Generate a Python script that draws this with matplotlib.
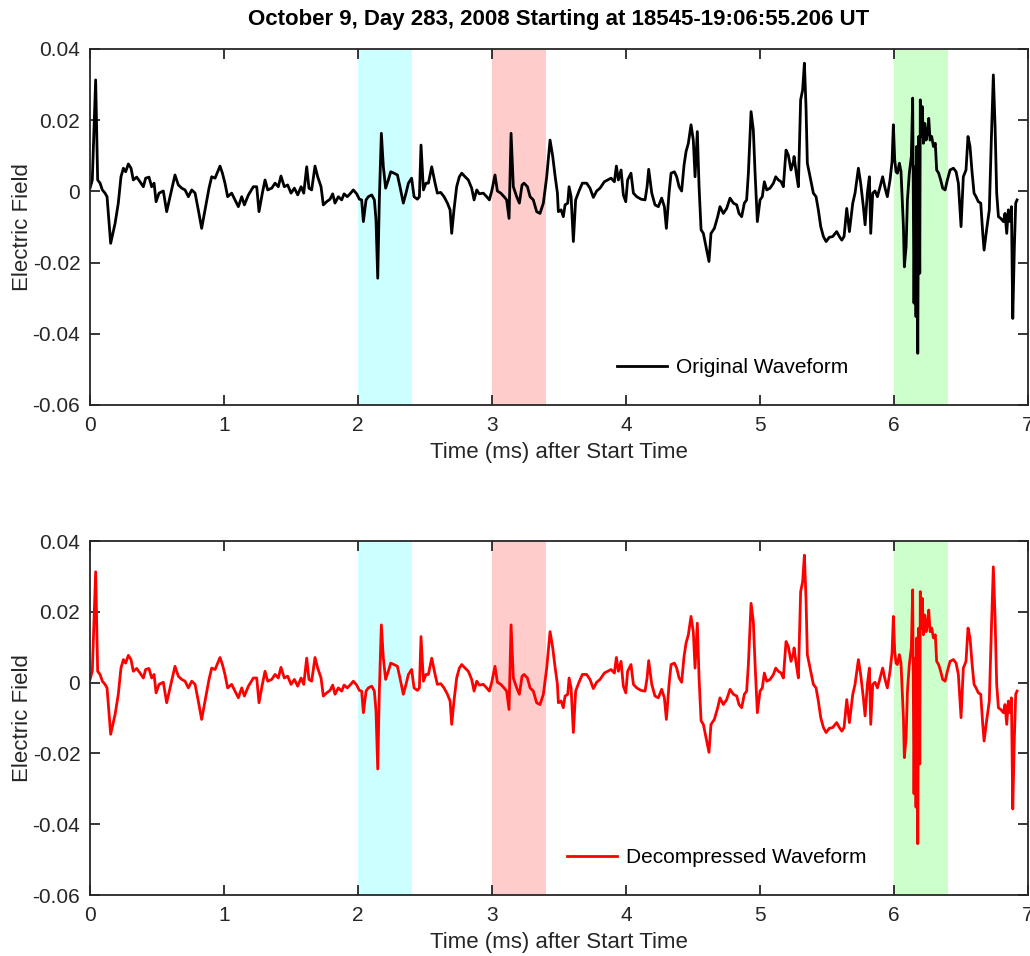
import numpy as np
import matplotlib.pyplot as plt

# ====== Waveform samples (time in ms, field in arbitrary units) ======
time_ms = [
    0.000, 0.017, 0.042, 0.057, 0.075, 0.092, 0.112, 0.127, 0.154, 0.187,
    0.211, 0.231, 0.249, 0.266, 0.286, 0.306, 0.323, 0.348, 0.373, 0.398,
    0.415, 0.440, 0.460, 0.478, 0.493, 0.515, 0.547, 0.572, 0.597, 0.634,
    0.659, 0.684, 0.709, 0.734, 0.759, 0.784, 0.808, 0.833, 0.863, 0.888,
    0.908, 0.933, 0.953, 0.970, 0.988, 1.007, 1.027, 1.057, 1.082, 1.107,
    1.132, 1.152, 1.182, 1.219, 1.244, 1.261, 1.286, 1.306, 1.326, 1.356,
    1.381, 1.405, 1.425, 1.450, 1.475, 1.500, 1.525, 1.550, 1.575, 1.595,
    1.617, 1.634, 1.654, 1.679, 1.699, 1.724, 1.741,
    1.766, 1.791, 1.811, 1.828, 1.853, 1.878, 1.896, 1.920, 1.945, 1.965,
    1.990, 2.010, 2.027, 2.040, 2.060, 2.077, 2.102, 2.122, 2.134, 2.147,
    2.159, 2.174, 2.189, 2.206, 2.226, 2.244, 2.269, 2.294, 2.313, 2.338,
    2.358, 2.376, 2.400, 2.418, 2.443, 2.458, 2.470, 2.488, 2.507, 2.525,
    2.550, 2.575, 2.592, 2.617, 2.642, 2.667, 2.687, 2.699, 2.716, 2.736,
    2.756, 2.774, 2.799, 2.823, 2.848, 2.866, 2.886, 2.905, 2.935, 2.960,
    2.980, 2.998, 3.022, 3.040, 3.065, 3.090, 3.109, 3.127, 3.142, 3.159,
    3.184, 3.204, 3.224, 3.239, 3.264, 3.284, 3.308, 3.333, 3.358, 3.383,
    3.408, 3.433, 3.453, 3.470, 3.488,
    3.495, 3.515, 3.532, 3.545, 3.565, 3.575, 3.590, 3.607, 3.624, 3.649,
    3.674, 3.706, 3.731, 3.756, 3.781, 3.806, 3.838, 3.863, 3.888, 3.913,
    3.928, 3.943, 3.963, 3.980, 3.998, 4.012, 4.037, 4.055, 4.080, 4.112,
    4.142, 4.157, 4.169, 4.192, 4.216, 4.241, 4.266, 4.286, 4.301, 4.321,
    4.336, 4.361, 4.378, 4.396, 4.415, 4.433, 4.448, 4.465, 4.485, 4.502,
    4.515, 4.532, 4.545, 4.560, 4.577, 4.602, 4.619, 4.634, 4.659, 4.684,
    4.701, 4.726, 4.751, 4.776, 4.801, 4.826, 4.843, 4.863, 4.883, 4.900,
    4.913, 4.933, 4.950, 4.963, 4.980, 5.000, 5.017, 5.032, 5.050, 5.075,
    5.100, 5.117, 5.137, 5.157, 5.174, 5.194, 5.211, 5.231, 5.249,
    5.254, 5.269, 5.286, 5.303, 5.318, 5.331, 5.343, 5.353, 5.368, 5.386,
    5.398, 5.418, 5.435, 5.453, 5.473, 5.493, 5.517, 5.542, 5.572, 5.592,
    5.610, 5.627, 5.647, 5.667, 5.692, 5.709, 5.734, 5.751, 5.771, 5.784,
    5.801, 5.816, 5.826, 5.841, 5.858, 5.876, 5.896, 5.915, 5.933, 5.950,
    5.970, 5.985, 5.995, 6.005, 6.015, 6.025, 6.040, 6.052, 6.070, 6.077,
    6.090, 6.100, 6.114, 6.129, 6.139, 6.149, 6.157, 6.164, 6.169, 6.177,
    6.184, 6.192, 6.196, 6.204, 6.211, 6.219, 6.229, 6.239, 6.249, 6.259,
    6.269, 6.281, 6.294, 6.308, 6.318, 6.333, 6.348, 6.363, 6.381, 6.398,
    6.418, 6.443, 6.463, 6.480, 6.500, 6.517, 6.537, 6.552, 6.567, 6.582,
    6.597, 6.612, 6.629, 6.647, 6.662, 6.672, 6.692, 6.711, 6.726, 6.741,
    6.754, 6.766, 6.779, 6.796, 6.816, 6.828, 6.841, 6.853, 6.866, 6.876,
    6.886, 6.898, 6.908, 6.918,
]

original = [
    0.0009, 0.0032, 0.0313, 0.0032, 0.0023, 0.0004, -0.0005, -0.0015, -0.0146, -0.0090,
    -0.0033, 0.0041, 0.0065, 0.0055, 0.0077, 0.0065, 0.0032, 0.0040, 0.0027, 0.0013,
    0.0037, 0.0040, 0.0013, 0.0023, -0.0029, -0.0005, 0.0001, -0.0057, -0.0015, 0.0046,
    0.0018, 0.0009, 0.0004, -0.0015, 0.0004, -0.0005, -0.0052, -0.0104, -0.0043, 0.0009,
    0.0041, 0.0037, 0.0055, 0.0071, 0.0051, 0.0023, -0.0015, -0.0005, -0.0024, -0.0043,
    -0.0015, -0.0038, -0.0010, 0.0013, 0.0013, -0.0057, -0.0005, 0.0032, 0.0004, 0.0009,
    0.0023, 0.0013, 0.0043, 0.0013, 0.0018, -0.0005, 0.0009, -0.0010, 0.0013, -0.0005,
    0.0069, 0.0009, 0.0004, 0.0071, 0.0041, 0.0013, -0.0038,
    -0.0029, -0.0022, -0.0007, -0.0033, -0.0015, -0.0024, -0.0007, -0.0015, -0.0005, 0.0004,
    -0.0007, -0.0022, -0.0024, -0.0085, -0.0024, -0.0015, -0.0010, -0.0024, -0.0080, -0.0244,
    -0.0024, 0.0163, 0.0069, 0.0009, 0.0032, 0.0055, 0.0051, 0.0046, 0.0013, -0.0033,
    -0.0005, 0.0023, 0.0037, -0.0015, -0.0022, -0.0015, 0.0130, 0.0004, 0.0023, 0.0023,
    0.0069, 0.0023, -0.0005, -0.0003, -0.0015, -0.0033, -0.0052, -0.0118, -0.0052, 0.0013,
    0.0041, 0.0051, 0.0041, 0.0032, 0.0009, -0.0024, 0.0004, -0.0007, -0.0005, -0.0015,
    -0.0024, 0.0001, 0.0046, 0.0001, -0.0005, -0.0015, -0.0024, -0.0076, 0.0163, 0.0013,
    -0.0015, -0.0033, 0.0018, 0.0023, 0.0013, -0.0015, -0.0024, -0.0057, -0.0062, -0.0033,
    0.0041, 0.0144, 0.0098, 0.0045, -0.0005,
    -0.0057, -0.0052, -0.0071, -0.0038, -0.0033, 0.0013, -0.0015, -0.0141, -0.0024, 0.0001,
    0.0023, 0.0023, 0.0009, -0.0017, 0.0001, 0.0009, 0.0027, 0.0032, 0.0037, 0.0027,
    0.0071, 0.0032, 0.0060, -0.0010, -0.0029, 0.0032, 0.0051, -0.0005, -0.0015, -0.0022,
    -0.0024, 0.0013, 0.0062, -0.0005, -0.0038, -0.0043, -0.0019, -0.0043, -0.0104, -0.0005,
    0.0051, 0.0055, 0.0041, 0.0013, 0.0001, 0.0074, 0.0112, 0.0135, 0.0187, 0.0144,
    0.0041, 0.0168, 0.0013, -0.0108, -0.0118, -0.0165, -0.0197, -0.0118, -0.0104, -0.0071,
    -0.0043, -0.0062, -0.0048, -0.0019, -0.0033, -0.0038, -0.0062, -0.0071, -0.0033, -0.0024,
    0.0051, 0.0224, 0.0172, 0.0051, -0.0085, -0.0024, -0.0015, 0.0027, 0.0004, 0.0009,
    0.0023, 0.0041, 0.0032, 0.0027, 0.0013, 0.0116, 0.0102, 0.0060, 0.0083,
    0.0098, 0.0055, 0.0013, 0.0257, 0.0285, 0.0360, 0.0238, 0.0079, 0.0051, 0.0018,
    -0.0005, -0.0015, -0.0052, -0.0099, -0.0127, -0.0141, -0.0129, -0.0127, -0.0113, -0.0127,
    -0.0137, -0.0127, -0.0048, -0.0113, -0.0033, -0.0005, 0.0065, 0.0023, -0.0043, -0.0094,
    -0.0005, 0.0041, -0.0118, -0.0005, 0.0001, -0.0015, 0.0013, 0.0041, 0.0009, -0.0015,
    0.0032, 0.0083, 0.0187, 0.0088, 0.0055, 0.0051, 0.0079, 0.0055, -0.0099, -0.0212,
    -0.0155, -0.0024, 0.0051, 0.0098, 0.0262, -0.0314, 0.0069, -0.0352, 0.0126, -0.0455,
    0.0154, -0.0230, 0.0257, 0.0154, 0.0238, 0.0135, 0.0191, 0.0144, 0.0163, 0.0205,
    0.0144, 0.0154, 0.0126, 0.0135, 0.0060, 0.0051, 0.0032, 0.0009, 0.0004, 0.0032,
    0.0060, 0.0065, 0.0055, 0.0023, -0.0099, 0.0041, 0.0060, 0.0154, 0.0126, 0.0055,
    -0.0005, -0.0015, -0.0029, -0.0033, -0.0118, -0.0165, -0.0104, -0.0052, 0.0144, 0.0327,
    0.0182, -0.0005, -0.0071, -0.0076, -0.0085, -0.0062, -0.0118, -0.0052, -0.0085, -0.0043,
    -0.0357, -0.0155, -0.0033, -0.0024,
]

# decompressed signal is indistinguishable from the original at this scale
decompressed = list(original)

# highlighted intervals (ms) and their fill colours
spans = [(2.0, 2.4), (3.0, 3.4), (6.0, 6.4)]
span_colors = ["#ccffff", "#ffcccc", "#ccffcc"]

x_ticks = [0, 1, 2, 3, 4, 5, 6, 7]
y_ticks = [-0.06, -0.04, -0.02, 0, 0.02, 0.04]
y_tick_labels = ["-0.06", "-0.04", "-0.02", "0", "0.02", "0.04"]

TITLE = "October 9, Day 283, 2008 Starting at 18545-19:06:55.206 UT"
AX_COLOR = "#262626"

plt.rcParams["font.family"] = ["Liberation Sans", "DejaVu Sans"]

fig = plt.figure(figsize=(10.30, 9.56), dpi=100)
ax_top = fig.add_axes([0.0874, 0.5764, 0.9107, 0.3724])
ax_bot = fig.add_axes([0.0874, 0.0638, 0.9107, 0.3703])


def style_axes(ax):
    ax.set_xlim(0, 7)
    ax.set_ylim(-0.06, 0.04)
    ax.set_xticks(x_ticks)
    ax.set_xticklabels([str(t) for t in x_ticks])
    ax.set_yticks(y_ticks)
    ax.set_yticklabels(y_tick_labels)
    ax.tick_params(direction="in", length=7, width=1.3, top=True, right=True,
                   labelsize=15, colors=AX_COLOR)
    ax.tick_params(axis="x", pad=8)
    ax.tick_params(axis="y", pad=7)
    for s in ax.spines.values():
        s.set_color(AX_COLOR)
        s.set_linewidth(1.3)
    ax.set_xlabel("Time (ms) after Start Time", fontsize=16, color=AX_COLOR, labelpad=5)
    ax.set_ylabel("Electric Field", fontsize=16, color=AX_COLOR, labelpad=0)
    for (a, b), c in zip(spans, span_colors):
        ax.axvspan(a, b, color=c, lw=0, zorder=0)


for ax, data, color, label, anchor in [
    (ax_top, original, "black", "Original Waveform", (0.685, 0.104)),
    (ax_bot, decompressed, "red", "Decompressed Waveform", (0.668, 0.105)),
]:
    style_axes(ax)
    ax.plot(time_ms, data, color=color, lw=2.0, label=label, zorder=2)
    ax.legend(loc="center", bbox_to_anchor=anchor, frameon=False,
              fontsize=15, handlelength=2.4, handletextpad=0.4)

ax_top.set_title(TITLE, fontsize=16, fontweight="bold", pad=17)

fig.savefig("out.png", dpi=100)
